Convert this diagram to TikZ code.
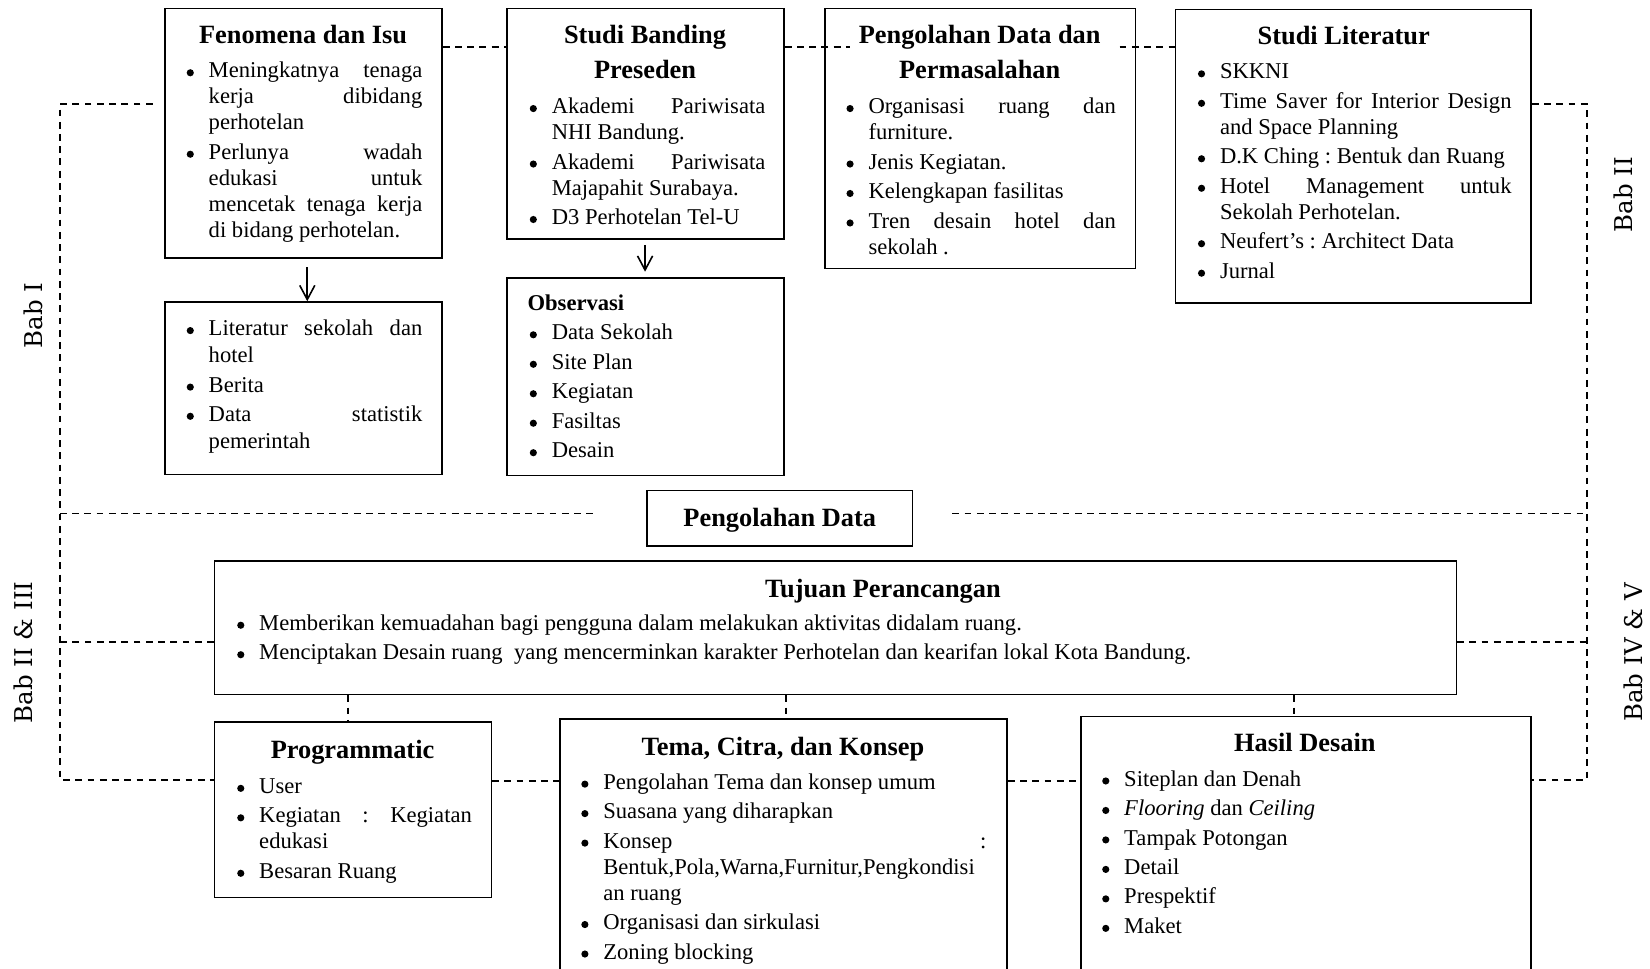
\documentclass[tikz,border=0pt]{standalone}
\usepackage{fontspec}
\setmainfont{Liberation Serif}
\newfontfamily\babfont{DejaVu Serif}
\usetikzlibrary{fit,calc,arrows.meta}
\newlength\igap \setlength\igap{1.85pt}
\newcommand\bdot{\tikz[baseline=0pt]\fill (0,2.7pt) circle[radius=1.9pt];}
\newcommand\JB[1]{\hbox to\hsize{\spaceskip=\fontdimen2\font plus 1fil\relax#1}}
\newcommand\LB[1]{\par\noindent\llap{\bdot\hskip7.9pt}\hbox{#1}\par}
\newcommand\LBJ[1]{\par\noindent\llap{\bdot\hskip7.9pt}\JB{#1}\par}
\newcommand\LC[1]{\par\noindent\hbox{#1}\par}
\newcommand\LCJ[1]{\par\noindent\JB{#1}\par}
\newcommand\G{\par\vspace{\igap}}
\tikzset{
 box/.style={draw, line width=0.85pt, inner sep=0pt, rectangle},
 dsh/.style={line width=0.9pt, dash pattern=on 3.6pt off 2.9pt},
 arr/.style={line width=0.85pt, -{Straight Barb[length=7.5pt,width=8pt]}},
 ttl/.style={font=\fontsize{14}{16}\selectfont\bfseries, anchor=base, inner sep=0pt},
 lst/.style={font=\fontsize{12}{13.8}\selectfont\frenchspacing, anchor=base west, inner sep=0pt},
 bab/.style={font=\babfont\fontsize{13}{15}\selectfont, rotate=90, inner sep=0pt}
}
\begin{document}
\begin{tikzpicture}[x=0.5587pt,y=-0.5587pt]
\clip (0,0) rectangle (1568,920);
% boxes
\node[box, fit={(157,8) (420,245)}] (fen) {};
\node[box, fit={(482,8) (745,227)}] (sb) {};
\node[box, fit={(784,8) (1079,255)}] (pdp) {};
\node[box, fit={(1117,9) (1455,288)}] (sl) {};
\node[box, fit={(157,287) (420,451)}] (lit) {};
\node[box, fit={(482,264) (745,452)}] (obs) {};
\node[box, fit={(615,466) (867,519)}] (pd) {};
\node[box, fit={(204,533) (1384,660)}] (tuj) {};
\node[box, fit={(204,686) (467,853)}] (prog) {};
\node[box, fit={(532,683) (957,940)}] (tema) {};
\node[box, fit={(1027,681) (1455,940)}] (hasil) {};
% free ends of connectors
\coordinate (pdpL) at (808,45);
\coordinate (pdpR) at (1064,45);
\coordinate (LT) at (57,99);
\coordinate (LTe) at (145,99);
\coordinate (LB) at (57,741);
\coordinate (LM) at (57,488);
\coordinate (LMe) at (567,488);
\coordinate (LU) at (57,610);
\coordinate (RT) at (1508,99);
\coordinate (RB) at (1508,741);
\coordinate (RM) at (1508,488);
\coordinate (RMe) at (905,488);
\coordinate (RU) at (1508,610);
% connectors
\draw[dsh] (fen.east |- 0,45) -- (sb.west |- 0,45);
\draw[dsh] (sb.east |- 0,45) -- (pdpL);
\draw[dsh] (pdpR) -- (sl.west |- 0,45);
\draw[dsh] (LTe) -- (LT) -- (LB) -- (prog.west |- LB);
\draw[dsh] (LM) -- (LMe);
\draw[dsh] (tuj.west |- LU) -- (LU);
\draw[dsh] (sl.east |- RT) -- (RT) -- (RB) -- (hasil.east |- RB);
\draw[dsh] (RMe) -- (RM);
\draw[dsh] (tuj.east |- RU) -- (RU);
\draw[dsh] (tuj.south -| 331,0) -- (prog.north -| 331,0);
\draw[dsh] (tuj.south -| 747,0) -- (tema.north -| 747,0);
\draw[dsh] (tuj.south -| 1230,0) -- (hasil.north -| 1230,0);
\draw[dsh] (prog.east |- 0,742) -- (tema.west |- 0,742);
\draw[dsh] (tema.east |- 0,742) -- (hasil.west |- 0,742);
\draw[arr] ($(fen.south -| 292,0)+(0,8)$) -- (lit.north -| 292,0);
\draw[arr] ($(sb.south -| 613,0)+(0,5)$) -- ($(obs.north -| 613,0)+(0,-5)$);
% Bab labels
\node[bab] (bab1) at (32,300) {Bab I};
\node[bab] (bab2) at (1543,185) {Bab II};
\node[bab] (bab23) at (22,620) {Bab II \& III};
\node[bab] (bab45) at (1552,620) {Bab IV \& V};
% Fenomena dan Isu
\node[ttl] (fenT) at (288,41) {Fenomena dan Isu};
\node[lst] (fenL) at (198,74) {\parbox[t]{113.4pt}{%
\LBJ{Meningkatnya tenaga}\LCJ{kerja dibidang}\LC{perhotelan}\G
\LBJ{Perlunya wadah}\LCJ{edukasi untuk}\LCJ{mencetak tenaga kerja}\LC{di bidang perhotelan.}}};
\node[lst, font=\fontsize{12}{14.5}\selectfont\frenchspacing] (litL) at (198,319) {\parbox[t]{113.4pt}{%
\LBJ{Literatur sekolah dan}\LC{hotel}\par\vspace{1pt}
\LB{Berita}\par\vspace{1pt}
\LBJ{Data statistik}\LC{pemerintah}}};
% Studi Banding
\node[ttl] (sbT1) at (613,41) {Studi Banding};
\node[ttl] (sbT2) at (613,75) {Preseden};
\node[lst] (sbL) at (524,108) {\parbox[t]{113.4pt}{%
\LBJ{Akademi Pariwisata}\LC{NHI Bandung.}\G
\LBJ{Akademi Pariwisata}\LC{Majapahit Surabaya.}\G
\LB{D3 Perhotelan Tel-U}}};
% Observasi
\node[lst, font=\fontsize{12}{13.8}\selectfont\bfseries] (obsT) at (501,295) {Observasi};
\node[lst] (obsL) at (524,323) {\parbox[t]{113.4pt}{%
\LB{Data Sekolah}\G\LB{Site Plan}\G\LB{Kegiatan}\G\LB{Fasiltas}\G\LB{Desain}}};
% Pengolahan Data dan Permasalahan
\node[ttl] (pdpT1) at (931,41) {Pengolahan Data dan};
\node[ttl] (pdpT2) at (931,75) {Permasalahan};
\node[lst] (pdpL) at (825,108) {\parbox[t]{131.3pt}{%
\LBJ{Organisasi ruang dan}\LC{furniture.}\G
\LB{Jenis Kegiatan.}\G
\LB{Kelengkapan fasilitas}\G
\LBJ{Tren desain hotel dan}\LC{sekolah .}}};
% Studi Literatur
\node[ttl] (slT) at (1277,42) {Studi Literatur};
\node[lst] (slL) at (1159,75) {\parbox[t]{154.8pt}{%
\LB{SKKNI}\G
\LBJ{Time Saver for Interior Design}\LC{and Space Planning}\G
\LB{D.K Ching : Bentuk dan Ruang}\G
\LBJ{Hotel Management untuk}\LC{Sekolah Perhotelan.}\G
\LB{Neufert’s : Architect Data}\G
\LB{Jurnal}}};
% Pengolahan Data
\node[ttl] (pdT) at (741,500) {Pengolahan Data};
% Tujuan Perancangan
\node[ttl] (tujT) at (839,568) {Tujuan Perancangan};
\node[lst] (tujL) at (246,599) {\parbox[t]{614.6pt}{%
\LB{Memberikan kemuadahan bagi pengguna dalam melakukan aktivitas didalam ruang.}\G
\LB{Menciptakan Desain ruang\ \ yang mencerminkan karakter Perhotelan dan kearifan lokal Kota Bandung.}}};
% Programmatic
\node[ttl] (progT) at (335,721) {Programmatic};
\node[lst] (progL) at (246,754) {\parbox[t]{112.9pt}{%
\LB{User}\G
\LBJ{Kegiatan : Kegiatan}\LC{edukasi}\G
\LB{Besaran Ruang}}};
% Tema, Citra, dan Konsep
\node[ttl] (temaT) at (744,718) {Tema, Citra, dan Konsep};
\node[lst] (temaL) at (573,750) {\parbox[t]{203.4pt}{%
\LB{Pengolahan Tema dan konsep umum}\G
\LB{Suasana yang diharapkan}\G
\LBJ{Konsep :}\LC{Bentuk,Pola,Warna,Furnitur,Pengkondisi}\LC{an ruang}\G
\LB{Organisasi dan sirkulasi}\G
\LB{Zoning blocking}}};
% Hasil Desain
\node[ttl] (hasilT) at (1240,714) {Hasil Desain};
\node[lst] (hasilL) at (1068,747) {\parbox[t]{206.7pt}{%
\LB{Siteplan dan Denah}\G
\LB{\textit{Flooring} dan \textit{Ceiling}}\G
\LB{Tampak Potongan}\G
\LB{Detail}\G
\LB{Prespektif}\G
\LB{Maket}}};
\end{tikzpicture}
\end{document}
